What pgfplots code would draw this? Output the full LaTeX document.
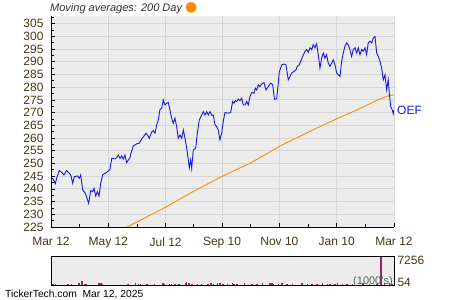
\documentclass[border=0pt]{standalone}
\usepackage{pgfplots}
\pgfplotsset{compat=1.18}
\usepackage{pgfplotstable}
\usepackage{fontspec}
\setmainfont{Liberation Sans}
\newfontfamily\dejavu{DejaVu Sans}
\definecolor{priceblue}{RGB}{25,25,215}
\definecolor{maorange}{RGB}{255,140,0}
\definecolor{bgray}{RGB}{236,236,236}
\definecolor{gridgray}{RGB}{214,214,214}
\definecolor{labbrown}{RGB}{70,55,20}
\definecolor{volred}{RGB}{160,35,95}
\definecolor{volgreen}{RGB}{70,110,90}

\pgfplotstableread{
day price
0 244.7
2.4 243.8
4.6 242.0
6.1 244.3
8.8 247.2
11.4 246.5
13.8 245.5
16.7 247.2
19.5 246.1
21.0 245.5
23.1 242.2
24.8 244.8
28.0 245.1
30.1 244.2
31.6 245.5
33.7 239.6
36.2 238.5
38.0 236.7
40.1 234.3
42.2 239.3
44.4 238.9
45.8 240.2
47.6 237.2
49.3 238.9
51.1 237.2
52.9 242.2
55.0 245.5
59.3 246.5
62.8 247.7
64.6 252.0
68.1 251.8
69.9 252.3
71.6 253.3
73.4 252.0
75.2 253.0
76.9 251.7
78.7 253.3
80.5 250.3
84.1 252.3
85.1 254.0
87.6 256.9
91.2 257.7
94.0 258.0
96.5 259.6
99.0 260.8
101.1 261.9
102.5 261.2
104.6 259.9
107.1 262.3
108.8 262.9
110.7 261.9
112.5 265.2
114.2 267.1
116.0 271.3
117.8 271.7
119.5 275.0
121.3 273.0
123.1 273.7
124.8 274.0
126.6 271.0
128.4 267.8
130.1 265.8
131.9 267.8
133.7 264.5
135.4 259.9
137.3 261.2
139.1 259.9
140.8 263.2
142.6 259.9
144.4 256.0
146.1 251.4
147.2 248.3
148.6 251.4
149.7 248.1
151.4 255.3
154.0 256.0
155.7 261.9
157.8 267.1
160.3 269.0
162.1 270.4
163.9 269.0
165.7 270.4
167.4 269.0
169.2 270.4
171.0 269.0
172.7 269.0
174.5 265.2
176.3 264.5
178.0 263.2
179.8 259.3
181.6 261.9
183.3 266.5
185.1 270.0
188.7 269.8
191.2 270.0
193.3 274.4
194.7 273.7
196.1 274.7
197.6 274.4
199.3 275.3
201.1 274.7
202.9 275.7
204.6 273.0
206.4 273.0
208.2 274.4
209.9 273.0
211.7 276.3
213.5 277.9
216.0 277.6
217.4 279.6
218.9 278.9
220.6 280.9
222.4 280.2
224.2 281.3
226.6 281.8
228.8 278.9
231.2 280.2
233.8 281.6
235.9 281.0
237.8 275.2
240.1 275.5
241.8 281.5
242.9 286.0
243.7 286.8
245.5 288.8
247.9 289.1
250.0 288.8
252.5 282.9
254.3 284.2
256.1 285.6
258.6 286.2
260.7 286.8
262.1 288.2
264.2 288.8
265.7 290.1
267.8 292.1
270.3 294.1
272.1 294.8
273.8 293.7
275.6 295.5
277.4 294.8
279.1 296.7
280.9 295.5
282.7 297.1
284.4 292.8
286.2 287.5
288.0 291.4
289.7 293.4
291.5 291.4
293.3 292.8
295.0 289.5
296.9 288.2
298.7 289.5
300.4 290.8
302.2 288.8
304.0 285.6
305.7 284.9
307.5 284.2
309.3 290.1
311.0 293.4
312.8 296.1
314.6 297.4
316.3 296.7
318.1 294.8
319.9 292.1
321.7 294.8
323.5 295.5
325.3 293.4
327.0 295.5
328.8 292.8
330.6 294.8
332.3 294.1
334.1 295.5
335.9 292.8
337.6 297.4
339.4 298.1
341.2 297.4
343.0 299.3
344.8 299.9
346.6 293.4
348.3 292.1
350.1 290.1
351.9 287.5
353.6 282.9
355.4 284.9
357.2 278.9
358.9 282.9
360.0 277.6
361.5 272.4
363.2 271.0
364.2 269.5
365.0 271.0
}\pricetable

\pgfplotstableread{
day ma
80 224.8
123 233.0
151 238.9
183 245.1
212 250.1
244 256.9
281 263.6
306 267.9
327 271.3
349 275.2
358 276.5
365 277.0
}\matable

\pgfplotstableread{
day vol
2 350
5 300
18 300
22 250
30 400
33 1000
36 350
38 300
51 400
53 500
55 300
82 300
90 450
93 350
95 300
102 350
110 300
119 400
121 350
126 300
128 250
132 300
136 350
143 450
144 800
147 450
150 300
156 300
160 250
167 300
170 400
173 350
177 450
180 400
183 350
188 300
193 400
195 300
198 350
206 400
214 350
219 300
225 400
233 550
235 450
237 350
242 300
246 400
251 300
257 350
267 400
273 300
278 300
283 350
289 400
294 300
297 300
302 350
305 400
310 300
315 350
321 300
332 400
339 300
347 350
351 7256
355 400
360 450
363 350
}\voltable

\begin{document}
\begin{tikzpicture}
\path[use as bounding box] (0,0) rectangle (450pt,300pt);
\begin{axis}[
  at={(51pt,73pt)}, anchor=south west,
  scale only axis, width=343pt, height=211pt,
  xmin=0, xmax=365, ymin=225, ymax=308,
  axis x line*=bottom, axis y line*=left,
  axis line style={black, line width=0.9pt, -},
  axis background/.style={fill=bgray},
  xtick={0,61,122,182,243,304,365},
  xticklabels={Mar 12,May 12,Jul 12,Sep 10,Nov 10,Jan 10,Mar 12},
  minor xtick={30.5,91.5,152,212.5,273.5,334.5},
  ytick={225,230,...,305},
  minor ytick={227.5,232.5,...,307.5},
  tick align=inside,
  major tick length=3.5pt, minor tick length=3pt,
  every tick/.style={black, line width=0.7pt},
  xmajorgrids, ymajorgrids,
  grid style={gridgray, line width=0.8pt},
  ticklabel style={font=\fontsize{12}{12}\selectfont, text=labbrown},
  /pgf/number format/assume math mode=true,
  xticklabel style={yshift=-7pt},
  yticklabel style={xshift=-4pt},
  clip mode=individual,
  title={Moving averages: 200 Day\ \textcolor{maorange}{\dejavu\fontsize{14}{14}\selectfont ●}},
  title style={at={(axis description cs:0,1)}, anchor=base west, yshift=-1pt, xshift=-1pt,
    font=\fontsize{11}{11}\selectfont\itshape, text=black!80, inner sep=0pt},
]
\addplot[maorange, line width=0.9pt] table[x=day,y=ma]{\matable};
\addplot[priceblue, line width=0.9pt] table[x=day,y=price]{\pricetable};
\node[anchor=west, text=priceblue, font=\fontsize{12}{12}\selectfont, inner sep=0pt, xshift=3pt] at (axis cs:365,271) {OEF};
\end{axis}

\begin{axis}[
  at={(51pt,15pt)}, anchor=south west,
  scale only axis, width=343pt, height=29pt,
  xmin=0, xmax=365, ymin=0, ymax=7400,
  axis background/.style={fill=bgray},
  axis line style={black, line width=0.9pt},
  xtick=\empty,
  ytick={54}, yticklabels={54},
  extra y ticks={7256}, extra y tick labels={7256},
  yticklabel pos=right,
  major tick length=0pt,
  ticklabel style={font=\fontsize{12}{12}\selectfont, text=labbrown},
  yticklabel style={yshift=2.8pt},
  extra y tick style={yticklabel style={yshift=-6.4pt}},
  clip mode=individual,
]
\addplot[ycomb, volred, line width=1.5pt] table[x=day,y=vol]{\voltable};
\node[anchor=east, text=volgreen, font=\fontsize{11}{11}\selectfont, inner sep=0pt] at (rel axis cs:0.997,0.12) {(1000's)};
\end{axis}

\node[anchor=base west, font=\fontsize{10.3}{10.3}\selectfont, inner sep=0pt] at (5pt,2pt) {TickerTech.com\ \ Mar 12, 2025};
\end{tikzpicture}
\end{document}
